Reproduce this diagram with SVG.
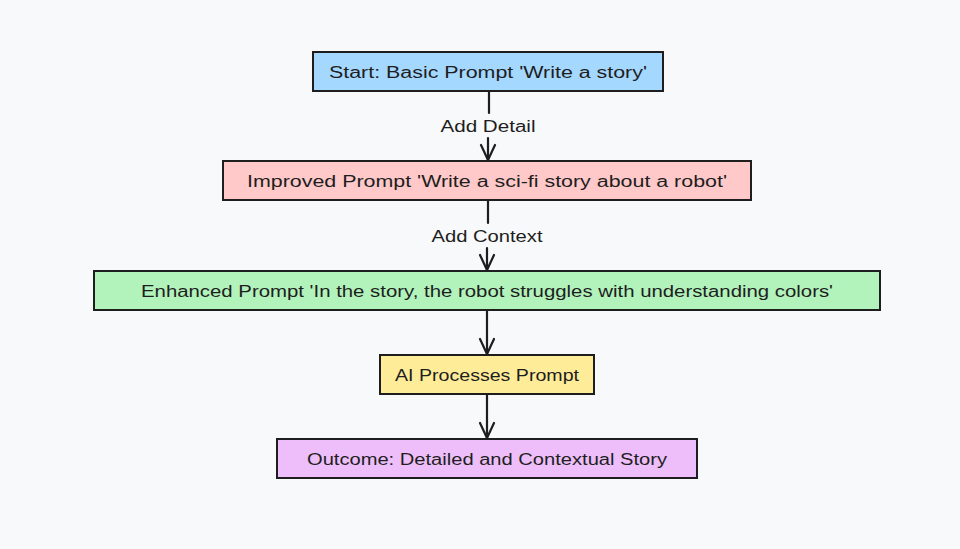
<svg xmlns="http://www.w3.org/2000/svg" width="960" height="549" viewBox="0 0 960 549">
<defs>
<style>
.box{stroke:#1e1e1e;stroke-width:2}
.t{font-family:"Liberation Sans","Open Sans",sans-serif;font-size:16px;fill:#1e1e1e;text-anchor:middle;dominant-baseline:central}
.lbl{font-family:"Liberation Sans","Open Sans",sans-serif;font-size:16px;fill:#1e1e1e;text-anchor:middle;dominant-baseline:central}
.edge{stroke:#1e1e1e;stroke-width:2.2;fill:none;stroke-linecap:round}
</style>
<marker id="arr" viewBox="0 0 20 20" refX="10" refY="19" markerWidth="20" markerHeight="20" markerUnits="userSpaceOnUse" orient="0">
<path d="M3 4 L10 19 L17 4" fill="none" stroke="#1e1e1e" stroke-width="2.2" stroke-linecap="round" stroke-linejoin="round"/>
</marker>
</defs>
<rect width="960" height="549" fill="#f8f9fa"/>
<g id="connectors">
<line class="edge" x1="489" y1="92" x2="489" y2="113"/>
<line class="edge" x1="488" y1="138" x2="488" y2="160" marker-end="url(#arr)"/>
<line class="edge" x1="488" y1="201" x2="488" y2="223"/>
<line class="edge" x1="487" y1="248" x2="487" y2="270" marker-end="url(#arr)"/>
<line class="edge" x1="487" y1="311" x2="487" y2="354" marker-end="url(#arr)"/>
<line class="edge" x1="487" y1="395" x2="487" y2="438" marker-end="url(#arr)"/>
<text class="lbl" x="488" y="126" textLength="95" lengthAdjust="spacingAndGlyphs">Add Detail</text>
<text class="lbl" x="487" y="236" textLength="111" lengthAdjust="spacingAndGlyphs">Add Context</text>
</g>
<g id="start">
<rect class="box" x="313" y="52" width="350" height="39" fill="#a5d8ff"/>
<text class="t" x="488" y="72" textLength="318" lengthAdjust="spacingAndGlyphs">Start: Basic Prompt 'Write a story'</text>
</g>
<g id="improved">
<rect class="box" x="223" y="161" width="528" height="39" fill="#ffc9c9"/>
<text class="t" x="487" y="181" textLength="480" lengthAdjust="spacingAndGlyphs">Improved Prompt 'Write a sci-fi story about a robot'</text>
</g>
<g id="enhanced">
<rect class="box" x="94" y="271" width="786" height="39" fill="#b2f2bb"/>
<text class="t" x="487" y="291" textLength="692" lengthAdjust="spacingAndGlyphs">Enhanced Prompt 'In the story, the robot struggles with understanding colors'</text>
</g>
<g id="ai">
<rect class="box" x="380" y="355" width="214" height="39" fill="#ffec99"/>
<text class="t" x="487" y="375" textLength="184" lengthAdjust="spacingAndGlyphs">AI Processes Prompt</text>
</g>
<g id="outcome">
<rect class="box" x="277" y="439" width="420" height="39" fill="#eebefa"/>
<text class="t" x="487" y="459" textLength="360" lengthAdjust="spacingAndGlyphs">Outcome: Detailed and Contextual Story</text>
</g>
</svg>
